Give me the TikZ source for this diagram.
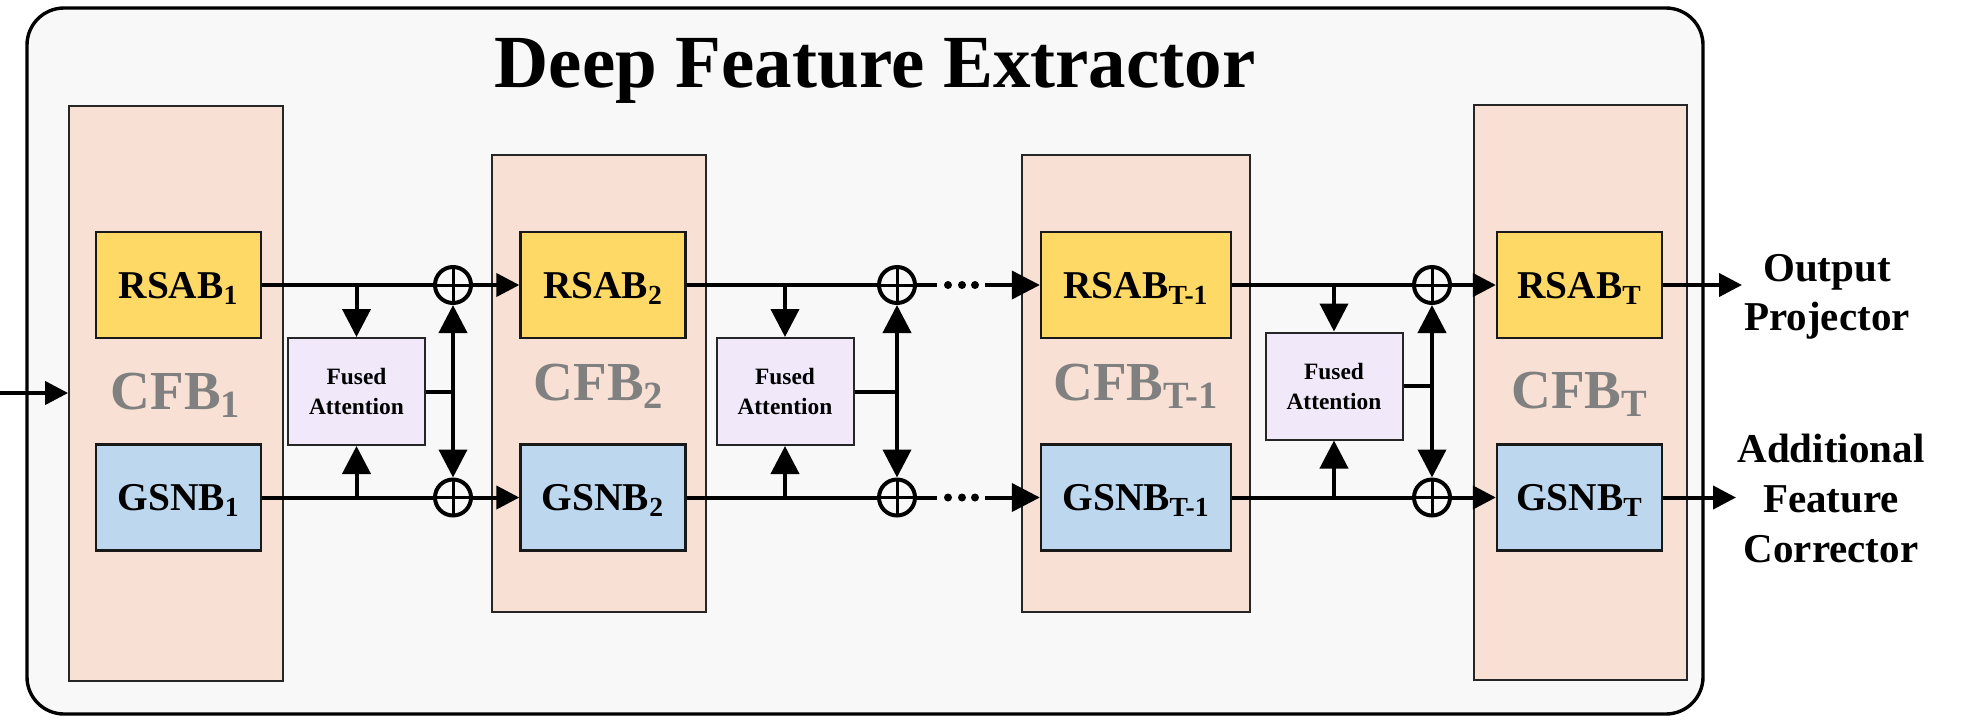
\documentclass[tikz,border=0pt]{standalone}
\usepackage{fontspec}
\setmainfont{Liberation Serif}
\usetikzlibrary{arrows.meta,calc}
\definecolor{bgc}{HTML}{F8F8F8}
\definecolor{cfbc}{HTML}{F8E1D4}
\definecolor{rsabc}{HTML}{FFD966}
\definecolor{gsnbc}{HTML}{BDD7EE}
\definecolor{fac}{HTML}{F1E8FA}
\definecolor{cfbtext}{HTML}{808080}
\begin{document}
\begin{tikzpicture}[x=0.5pt,y=-0.5pt,
  frame/.style={draw=black, line width=1.7pt, fill=bgc, rounded corners=18.5pt},
  cfb/.style={draw=black!85, line width=0.9pt, fill=cfbc, inner sep=0pt},
  blk/.style={draw=black!90, line width=1.15pt, minimum width=82.5pt, minimum height=53pt, inner sep=0pt,
    font=\fontsize{19.7}{22}\selectfont\bfseries, text height=13pt, text depth=0pt},
  rsab/.style={blk, fill=rsabc},
  gsnb/.style={blk, fill=gsnbc},
  fa/.style={draw=black!85, line width=1pt, fill=fac, minimum width=68.5pt, minimum height=53.5pt,
    inner sep=0pt, align=center, font=\fontsize{11.7}{15}\selectfont\bfseries},
  plus/.style={circle, draw=black, line width=2pt, fill=bgc, minimum size=18pt, inner sep=0pt,
    path picture={\draw[line width=1.5pt] (path picture bounding box.north) -- (path picture bounding box.south)
      (path picture bounding box.west) -- (path picture bounding box.east);}},
  cfblabel/.style={text=cfbtext, font=\fontsize{27.5}{30}\selectfont\bfseries, text height=18.2pt, text depth=0pt, inner sep=0pt},
  conn/.style={line width=2pt},
  arrh/.style={conn, -{Triangle[length=11.5pt,width=11.5pt]}},
  arrv/.style={conn, -{Triangle[length=14pt,width=14pt]}},
  outlbl/.style={anchor=base, font=\fontsize{20.5}{24}\selectfont\bfseries, inner sep=0pt},
  dotc/.style={fill=black}
]
\useasboundingbox (0,0) rectangle (1988,719);
\draw[frame] (27,8) rectangle (1703,714);
\node[font=\fontsize{37.5}{40}\selectfont\bfseries, anchor=base, inner sep=0pt] (title) at (875,87) {Deep Feature Extractor};

% CFB containers
\node[cfb, minimum width=107pt, minimum height=287.5pt] (cfb1) at (176,393.5) {};
\node[cfb, minimum width=107pt, minimum height=228.5pt] (cfb2) at (599,383.5) {};
\node[cfb, minimum width=114pt, minimum height=228.5pt] (cfb3) at (1136,383.5) {};
\node[cfb, minimum width=106.5pt, minimum height=287.5pt] (cfb4) at (1580.5,392.5) {};

\node[cfblabel] (l1) at (176,391) {CFB\textsubscript{1}};
\node[cfblabel] (l2) at (599,382) {CFB\textsubscript{2}};
\node[cfblabel] (l3) at (1136,382) {CFB\textsubscript{T-1}};
\node[cfblabel] (l4) at (1580,390) {CFB\textsubscript{T}};

% blocks
\node[rsab] (r1) at (178.5,285) {RSAB\textsubscript{1}};
\node[rsab] (r2) at (603,285) {RSAB\textsubscript{2}};
\node[rsab, minimum width=95pt] (r3) at (1136,285) {RSAB\textsubscript{T-1}};
\node[rsab] (r4) at (1579.5,285) {RSAB\textsubscript{T}};
\node[gsnb] (g1) at (178.5,497.5) {GSNB\textsubscript{1}};
\node[gsnb] (g2) at (603,497.5) {GSNB\textsubscript{2}};
\node[gsnb, minimum width=95pt] (g3) at (1136,497.5) {GSNB\textsubscript{T-1}};
\node[gsnb] (g4) at (1579.5,497.5) {GSNB\textsubscript{T}};

% fused attention
\node[fa] (f1) at (356.5,391.5) {Fused\\Attention};
\node[fa] (f2) at (785,391.5) {Fused\\Attention};
\node[fa] (f3) at (1334,386) {Fused\\Attention};

% adders
\node[plus] (p1a) at (453,285) {};
\node[plus] (p1b) at (453,497.5) {};
\node[plus] (p2a) at (897,285) {};
\node[plus] (p2b) at (897,497.5) {};
\node[plus] (p3a) at (1432,285) {};
\node[plus] (p3b) at (1432,497.5) {};

% input
\coordinate (in) at (0,393);
\draw[arrh] (in) -- (in -| cfb1.west);

% stage 1 -> 2
\draw[conn] (r1.east) -- (p1a.west);
\draw[arrh] (p1a.east) -- (r2.west);
\draw[conn] (g1.east) -- (p1b.west);
\draw[arrh] (p1b.east) -- (g2.west);
\draw[arrv] (f1.north |- r1.east) -- (f1.north);
\draw[arrv] (f1.south |- g1.east) -- (f1.south);
\draw[conn] (f1.east) -- (f1.east -| p1a);
\draw[arrv] (f1.east -| p1a) -- (p1a.south);
\draw[arrv] (f1.east -| p1a) -- (p1b.north);

% stage 2 -> T-1
\draw[conn] (r2.east) -- (p2a.west);
\draw[conn] (g2.east) -- (p2b.west);
\draw[arrv] (f2.north |- r2.east) -- (f2.north);
\draw[arrv] (f2.south |- g2.east) -- (f2.south);
\draw[conn] (f2.east) -- (f2.east -| p2a);
\draw[arrv] (f2.east -| p2a) -- (p2a.south);
\draw[arrv] (f2.east -| p2a) -- (p2b.north);
\coordinate (da) at (937,285);
\coordinate (ea) at (985,285);
\coordinate (db) at (937,497.5);
\coordinate (eb) at (985,497.5);
\draw[conn] (p2a.east) -- (da);
\draw[conn] (p2b.east) -- (db);
\foreach \x in {948,962,975} {
  \fill[dotc] (\x,285) circle (2pt);
  \fill[dotc] (\x,497.5) circle (2pt);
}
\draw[arrv] (ea) -- (r3.west);
\draw[arrv] (eb) -- (g3.west);

% stage T-1 -> T
\draw[conn] (r3.east) -- (p3a.west);
\draw[arrh] (p3a.east) -- (r4.west);
\draw[conn] (g3.east) -- (p3b.west);
\draw[arrh] (p3b.east) -- (g4.west);
\draw[arrv] (f3.north |- r3.east) -- (f3.north);
\draw[arrv] (f3.south |- g3.east) -- (f3.south);
\draw[conn] (f3.east) -- (f3.east -| p3a);
\draw[arrv] (f3.east -| p3a) -- (p3a.south);
\draw[arrv] (f3.east -| p3a) -- (p3b.north);

% outputs
\coordinate (o1) at (1742,285);
\coordinate (o2) at (1736,497.5);
\draw[arrh] (r4.east) -- (o1);
\draw[arrh] (g4.east) -- (o2);
\node[outlbl] (t1) at (1827,281) {Output};
\node[outlbl] (t2) at (1827,330) {Projector};
\node[outlbl] (t3) at (1831,462) {Additional};
\node[outlbl] (t4) at (1831,512) {Feature};
\node[outlbl] (t5) at (1831,562) {Corrector};
\end{tikzpicture}
\end{document}
